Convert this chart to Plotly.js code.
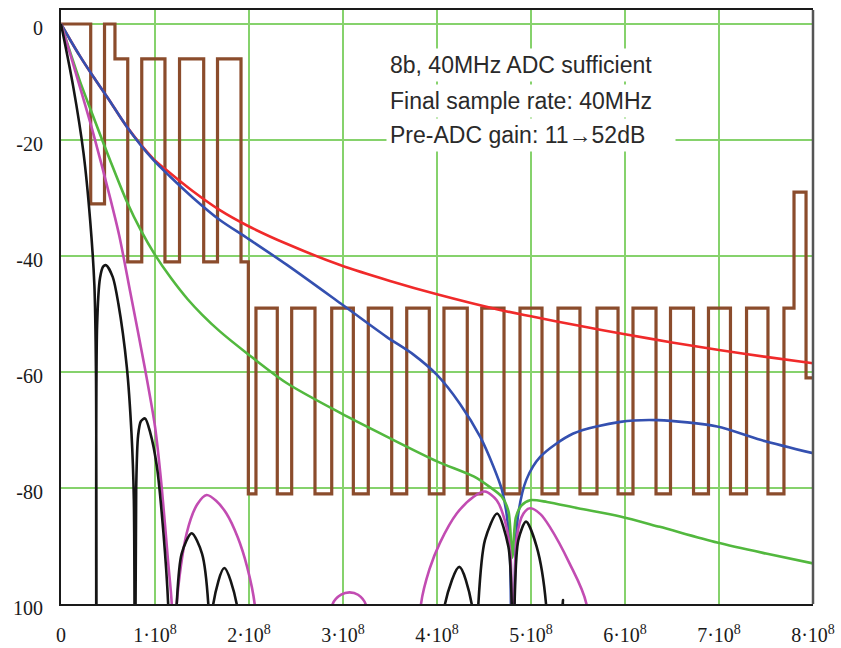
<!DOCTYPE html>
<html>
<head>
<meta charset="utf-8">
<script src="https://cdn.plot.ly/plotly-3.0.1.min.js"></script>
<style>html,body{margin:0;padding:0;background:#fff;}#chart{width:841px;height:648px;}</style>
</head>
<body>
<div id="chart"></div>
<script>
// Frequencies in Hz, levels in dB
const xTickVals = [0, 1e8, 2e8, 3e8, 4e8, 5e8, 6e8, 7e8, 8e8];
const xTickText = ["0", "1·10<sup>8</sup>", "2·10<sup>8</sup>", "3·10<sup>8</sup>", "4·10<sup>8</sup>", "5·10<sup>8</sup>", "6·10<sup>8</sup>", "7·10<sup>8</sup>", "8·10<sup>8</sup>"];
const yTickVals = [0, -20, -40, -60, -80, -100];
const yTickText = ["0", "-20", "-40", "-60", "-80", "100"];

const brownF = [0,3.16e7,4.63e7,5.74e7,7.10e7,8.59e7,1.106e8,1.261e8,1.518e8,1.665e8,1.915e8,1.993e8,2.074e8,2.301e8,2.454e8,2.702e8,2.880e8,3.110e8,3.269e8,3.518e8,3.678e8,3.918e8,4.074e8,4.322e8,4.476e8,4.713e8,4.883e8,5.117e8,5.287e8,5.521e8,5.702e8,5.926e8,6.085e8,6.330e8,6.484e8,6.729e8,6.888e8,7.122e8,7.293e8,7.521e8,7.691e8,7.798e8,7.926e8,8e8];
const brownDb = [0,-31,0,-6,-41,-6,-41,-6,-41,-6,-41,-81,-49,-81,-49,-81,-49,-81,-49,-81,-49,-81,-49,-81,-49,-81,-49,-81,-49,-81,-49,-81,-49,-81,-49,-81,-49,-81,-49,-81,-49,-29,-61,-61];

const redF = [0,1e7,2e7,3.44e7,5e7,7e7,9.8e7,1.16e8,1.4e8,1.69e8,1.975e8,2.4e8,2.976e8,3.5e8,4e8,4.67e8,5e8,5.5e8,6e8,6.5e8,7e8,7.5e8,8e8];
const redDb = [0,-2.8,-5.5,-9.1,-12.8,-17.7,-23.2,-25.7,-28.8,-32.1,-34.7,-37.9,-41.6,-44.3,-46.6,-49.3,-50.4,-52.0,-53.5,-54.9,-56.2,-57.4,-58.5];

const blueF = [0,1e7,2e7,3.44e7,5e7,7e7,9.8e7,1.16e8,1.4e8,1.69e8,1.98e8,2.4e8,2.976e8,3.46e8,3.75e8,4e8,4.245e8,4.46e8,4.6e8,4.69e8,4.74e8,4.775e8,4.805e8,4.835e8,4.865e8,4.95e8,5.1e8,5.45e8,5.95e8,6.35e8,6.98e8,7.44e8,8e8];
const blueDb = [0,-2.8,-5.5,-9.1,-12.8,-17.7,-23.4,-26.3,-29.9,-33.8,-36.9,-41.5,-48.2,-53.9,-57.0,-60.5,-65.5,-71.2,-76.3,-80.3,-84.4,-91,-130,-91,-84.4,-78.6,-74.6,-70.6,-68.6,-68.3,-69.4,-71.7,-74.0];

const greenF = [0,1e7,2e7,3.44e7,5.2e7,7e7,8.5e7,1e8,1.17e8,1.35e8,1.5e8,1.69e8,1.98e8,2.4e8,2.976e8,3.46e8,4e8,4.39e8,4.56e8,4.69e8,4.76e8,4.80e8,4.84e8,4.9e8,4.99e8,5.17e8,5.5e8,5.95e8,6.37e8,6.98e8,7.5e8,8e8];
const greenDb = [0,-5.0,-9.8,-16.0,-23.4,-30.6,-35.6,-39.8,-43.8,-47.5,-50.1,-53.0,-56.8,-61.9,-67.1,-71.1,-75.4,-78.0,-79.8,-81.5,-84.0,-92.0,-85.0,-83.0,-82.1,-82.4,-83.5,-84.9,-86.7,-89.4,-91.3,-93.0];

const magF = [0,1e7,2e7,3.44e7,5.2e7,6.2e7,7.34e7,8.94e7,1e8,1.071e8,1.141e8,1.178e8,1.205e8,1.231e8,1.337e8,1.45e8,1.55e8,1.65e8,1.76e8,1.88e8,1.98e8,2.06e8,2.12e8,2.85e8,2.89e8,2.98e8,3.07e8,3.16e8,3.24e8,3.28e8,3.79e8,3.83e8,3.92e8,4.03e8,4.21e8,4.39e8,4.51e8,4.635e8,4.72e8,4.78e8,4.81e8,4.85e8,4.92e8,4.99e8,5.1e8,5.2e8,5.41e8,5.59e8,5.65e8,8e8];
const magDb = [0,-5.3,-10.8,-18.9,-29.8,-36.5,-46,-59.5,-69.4,-79.8,-93,-100,-130,-100,-87.8,-82.8,-81.2,-82.2,-84.4,-88.5,-93.6,-100,-130,-130,-100,-98.4,-98.0,-98.4,-100,-130,-130,-100,-94,-89.5,-84.4,-81.5,-80.6,-82.1,-85.5,-91.2,-130,-88.4,-84.4,-83.5,-84.5,-86.7,-93,-100,-130,-130];

const blackF = [0,1.3e7,2.4e7,3.1e7,3.55e7,3.72e7,3.78e7,3.84e7,4.15e7,4.5e7,4.8e7,5.5e7,6.1e7,7e7,7.5e7,7.75e7,7.87e7,8e7,8.2e7,8.5e7,8.94e7,9.5e7,1.02e8,1.09e8,1.14e8,1.185e8,1.231e8,1.284e8,1.39e8,1.5e8,1.567e8,1.593e8,1.62e8,1.737e8,1.869e8,1.95e8,4.0e8,4.085e8,4.237e8,4.369e8,4.405e8,4.44e8,4.51e8,4.64e8,4.759e8,4.795e8,4.81e8,4.825e8,4.865e8,4.947e8,5.06e8,5.16e8,5.2e8,5.3e8,5.34e8,5.38e8,8e8];
const blackDb = [0,-10.8,-22.3,-33.8,-45,-60,-130,-52,-43.8,-41.8,-41.6,-43.6,-48.2,-59.1,-70.6,-82,-130,-80,-71,-68.5,-68,-70.5,-76.3,-87.8,-100,-130,-100,-91.3,-87.8,-91.3,-100,-130,-100,-93.8,-100,-130,-130,-100,-93.6,-100,-130,-100,-89,-84.4,-90.1,-100,-130,-100,-89,-85.8,-90.1,-100,-130,-130,-99.3,-130,-130];

const noteLines = ["8b, 40MHz ADC sufficient", "Final sample rate: 40MHz", "Pre-ADC gain: 11→52dB"];

function curve(x, y, color, width) {
  return {x: x, y: y, type: 'scatter', mode: 'lines', hoverinfo: 'skip',
          line: {color: color, width: width, shape: 'spline', smoothing: 0.8}};
}

const traces = [
  {x: brownF, y: brownDb, type: 'scatter', mode: 'lines', hoverinfo: 'skip',
   line: {color: '#8b4c2c', width: 3.2, shape: 'hv'}},
  curve(redF, redDb, '#f02a2a', 2.6),
  curve(blueF, blueDb, '#3450b0', 2.6),
  curve(greenF, greenDb, '#52b83e', 2.6),
  curve(magF, magDb, '#c24cb2', 2.6),
  curve(blackF, blackDb, '#151515', 2.6)
];

const tickFont = {family: 'Liberation Serif, Times New Roman, serif', size: 20, color: '#1a1a1a'};
const gridColor = '#86d26c';

const annY = [-7.07, -13.36, -19.14];
const annotations = noteLines.map((t, i) => ({
  text: t, xref: 'paper', yref: 'y', x: 0.4325, y: annY[i],
  xanchor: 'left', yanchor: 'middle', showarrow: false, align: 'left',
  width: 282, bgcolor: '#ffffff', borderpad: 3,
  font: {family: 'Liberation Sans, Arial, sans-serif', size: 23, color: '#2a2a2a'}
}));

const layout = {
  width: 841, height: 648,
  margin: {l: 61, r: 28, t: 10, b: 44, pad: 0},
  paper_bgcolor: '#ffffff', plot_bgcolor: '#ffffff',
  showlegend: false,
  xaxis: {
    range: [0, 8e8], tickmode: 'array', tickvals: xTickVals, ticktext: xTickText,
    showgrid: true, gridcolor: gridColor, gridwidth: 2, zeroline: false,
    showline: true, linecolor: '#1a1a1a', linewidth: 2, mirror: true,
    ticks: '', ticklabelstandoff: 12, tickfont: tickFont, fixedrange: true
  },
  yaxis: {
    range: [-100, 2.41], tickmode: 'array', tickvals: yTickVals, ticktext: yTickText,
    showgrid: true, gridcolor: gridColor, gridwidth: 2, zeroline: false,
    showline: true, linecolor: '#1a1a1a', linewidth: 2, mirror: false,
    ticks: '', ticklabelstandoff: 12, ticklabelshift: 4, tickfont: tickFont, fixedrange: true
  },
  shapes: [
    {type: 'line', xref: 'paper', yref: 'paper', x0: 1, x1: 1, y0: 0, y1: 1,
     line: {color: '#555555', width: 2.5}}
  ],
  annotations: annotations
};

Plotly.newPlot('chart', traces, layout, {staticPlot: true, displayModeBar: false});
</script>
</body>
</html>
